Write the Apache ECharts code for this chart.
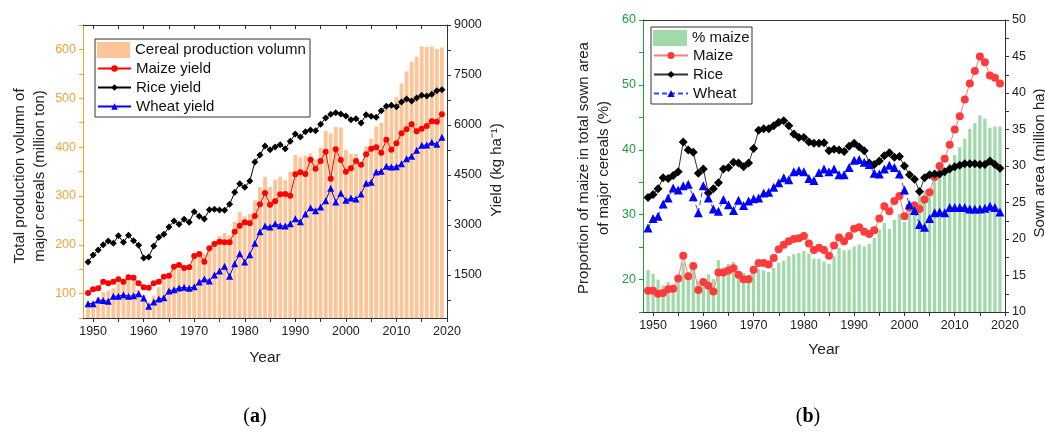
<!DOCTYPE html>
<html><head><meta charset="utf-8">
<script src="https://cdn.jsdelivr.net/npm/echarts@6/dist/echarts.min.js"></script>
<style>html,body{margin:0;padding:0;background:#fff;overflow:hidden}#c{width:1045px;height:435px}</style>
</head><body><div id="c"></div><script>
// ---------- data ----------
const years = [1949,1950,1951,1952,1953,1954,1955,1956,1957,1958,1959,1960,1961,1962,1963,1964,1965,1966,1967,1968,1969,1970,1971,1972,1973,1974,1975,1976,1977,1978,1979,1980,1981,1982,1983,1984,1985,1986,1987,1988,1989,1990,1991,1992,1993,1994,1995,1996,1997,1998,1999,2000,2001,2002,2003,2004,2005,2006,2007,2008,2009,2010,2011,2012,2013,2014,2015,2016,2017,2018,2019];

// (a) cereal production volume (million ton), left axis
const cerealProduction = [75,84,92,103,106,111,121,130,132,127,108,98,84,96,113,127,137,149,150,147,147,172,182,182,196,208,218,224,219,247,267,258,263,291,318,339,318,333,339,332,350,384,379,383,387,375,399,433,428,441,440,394,386,386,368,401,417,442,450,477,484,502,530,555,575,585,606,605,606,601,604];
// (a) yields (kg/ha), right axis
const maizeYield = [961,1073,1100,1300,1250,1300,1370,1300,1430,1420,1250,1130,1120,1250,1300,1450,1480,1750,1800,1710,1730,2070,2130,1900,2300,2430,2500,2480,2480,2800,2980,3080,3050,3270,3620,3960,3610,3710,3920,3930,3880,4520,4580,4530,4960,4690,4920,5200,4390,5270,4950,4600,4700,4920,4810,5120,5290,5330,5170,5560,5260,5450,5750,5870,6020,5810,5890,5970,6110,6100,6320];
const riceYield = [1890,2100,2250,2410,2520,2450,2680,2480,2690,2530,2390,2010,2040,2370,2630,2720,2940,3120,3020,3170,3080,3400,3260,3180,3460,3470,3450,3440,3620,3980,4240,4130,4320,4890,5100,5370,5260,5340,5410,5290,5510,5730,5640,5800,5850,5830,6020,6210,6320,6370,6330,6270,6160,6190,6060,6310,6260,6230,6430,6560,6590,6550,6690,6780,6720,6810,6890,6870,6920,7030,7060];
const wheatYield = [640,640,750,735,710,865,860,910,860,880,940,810,560,690,780,820,1020,1060,1110,1130,1100,1150,1290,1380,1320,1500,1620,1760,1460,1840,2140,1890,2110,2450,2800,2970,2940,3040,2980,2970,3040,3190,3100,3330,3520,3430,3540,3730,4100,3690,3950,3740,3810,3780,3930,4250,4280,4590,4610,4760,4740,4750,4840,4990,5060,5240,5390,5400,5480,5420,5630];

// (b) proportion of maize in total sown area of major cereals (%), left axis
const maizeShare = [21.5,20.9,20.0,19.1,19.6,19.2,20.7,22.6,20.0,22.0,19.8,19.9,20.8,20.1,23.0,21.9,22.4,22.7,21.3,21.0,20.7,21.4,21.6,21.4,21.2,21.8,22.6,22.9,23.6,23.9,24.1,24.4,24.0,23.2,23.2,22.8,22.4,23.6,24.9,24.5,24.6,25.1,25.4,25.1,25.5,26.4,27.7,28.7,27.8,29.2,30.1,28.9,31.2,32.1,33.2,33.7,33.8,35.2,36.3,37.0,37.9,39.2,40.4,41.7,43.2,44.1,45.3,44.8,43.4,43.6,43.6];
// (b) sown area (million ha), right axis
const maizeArea = [12.9,12.9,12.5,12.6,13.1,13.2,14.6,17.7,14.9,16.3,13.0,14.1,13.6,12.8,15.4,15.4,15.7,16.0,15.1,14.5,14.5,15.8,16.7,16.7,16.5,17.4,18.6,19.2,19.7,20.0,20.1,20.4,19.4,18.5,18.8,18.5,17.7,19.1,20.2,19.7,20.4,21.4,21.6,21.0,20.7,21.2,22.8,24.5,23.8,25.2,25.9,23.1,24.3,24.6,24.1,25.4,26.4,28.5,30.0,31.0,32.9,35.0,36.8,39.1,41.3,43.0,45.0,44.2,42.4,42.1,41.3];
const riceArea = [25.7,26.1,26.9,28.4,28.3,28.7,29.2,33.3,32.2,31.9,29.0,29.6,26.3,26.9,27.7,29.6,29.8,30.5,30.4,29.9,30.4,32.4,34.9,35.1,35.1,35.5,36.0,36.2,35.5,34.4,33.9,33.9,33.3,33.1,33.1,33.2,32.1,32.3,32.2,32.0,32.7,33.1,32.6,32.1,30.4,30.2,30.7,31.4,31.8,31.2,31.3,30.0,28.8,28.2,26.5,28.4,28.8,28.9,28.9,29.2,29.6,29.9,30.1,30.3,30.3,30.3,30.2,30.2,30.7,30.2,29.7];
const wheatArea = [21.5,22.8,23.1,24.8,25.6,27.0,26.7,27.3,27.5,25.8,23.6,27.3,25.6,24.1,23.8,25.4,24.7,23.9,25.3,24.6,25.2,25.5,25.6,26.3,26.4,27.1,27.7,28.4,28.1,29.2,29.4,29.2,28.3,28.0,29.1,29.6,29.2,29.6,28.8,28.8,29.8,30.8,30.9,30.5,30.2,29.0,28.9,29.6,30.1,29.8,28.9,26.7,24.7,23.9,22.0,21.6,22.8,23.6,23.7,23.6,24.3,24.3,24.3,24.3,24.1,24.1,24.1,24.2,24.5,24.3,23.7];

// ---------- tick labels ----------
const xLabelValues = [1950,1960,1970,1980,1990,2000,2010,2020];
const xTickValues = [1950,1955,1960,1965,1970,1975,1980,1985,1990,1995,2000,2005,2010,2015,2020];
const yLeftA_labels = [100,200,300,400,500,600];
const yLeftA_ticks = [50,100,150,200,250,300,350,400,450,500,550,600,650];
const yRightA_labels = [1500,3000,4500,6000,7500,9000];
const yRightA_ticks = [750,1500,2250,3000,3750,4500,5250,6000,6750,7500,8250,9000];
const yLeftB_labels = [20,30,40,50,60];
const yLeftB_ticks = [15,20,25,30,35,40,45,50,55,60];
const yRightB_labels = [10,15,20,25,30,35,40,45,50];
const yRightB_ticks = [10,12.5,15,17.5,20,22.5,25,27.5,30,32.5,35,37.5,40,42.5,45,47.5,50];

// ---------- chart ----------
const F = "'Liberation Sans', Arial, sans-serif";
const ORANGE = '#f7a13a';
const GREEN = '#1ca23c';
const DARK = '#222';
const pairs = arr => years.map((y, i) => [y, arr[i]]);
const plain = v => String(v);

function xAxisDef(grid, pos, opts) {
  return Object.assign({
    type: 'value', gridIndex: grid, position: pos, min: 1948, max: 2020,
    axisLine: {show: true, onZero: false, lineStyle: {color: '#333', width: 1}},
    axisTick: {show: true, inside: false, length: 4, customValues: xTickValues, lineStyle: {color: '#333'}},
    axisLabel: {show: true, customValues: xLabelValues, formatter: plain, margin: 7, fontSize: 12.5, fontFamily: F, color: DARK},
    splitLine: {show: false}
  }, opts || {});
}
function yAxisDef(grid, pos, min, max, ticks, labels, color, labelColor) {
  return {
    type: 'value', gridIndex: grid, position: pos, min: min, max: max,
    axisLine: {show: true, onZero: false, lineStyle: {color: color, width: 1}},
    axisTick: {show: true, inside: false, length: 4, customValues: ticks, lineStyle: {color: color}},
    axisLabel: {show: true, customValues: labels, formatter: plain, margin: 7, fontSize: 12.5, fontFamily: F, color: labelColor},
    splitLine: {show: false}
  };
}

const option = {
  animation: false,
  backgroundColor: '#fff',
  grid: [
    {left: 83, top: 25, width: 364, height: 293},
    {left: 643, top: 20, width: 362, height: 292}
  ],
  xAxis: [
    xAxisDef(0, 'bottom'),
    xAxisDef(0, 'top', {axisLabel: {show: false}, axisTick: {show: true, inside: true, length: 4, customValues: xTickValues, lineStyle: {color: '#333'}}}),
    xAxisDef(1, 'bottom'),
    xAxisDef(1, 'top', {axisLabel: {show: false}, axisTick: {show: false}})
  ],
  yAxis: [
    yAxisDef(0, 'left', 50, 650, yLeftA_ticks, yLeftA_labels, ORANGE, ORANGE),
    yAxisDef(0, 'right', 210, 9000, yRightA_ticks, yRightA_labels, '#333', DARK),
    yAxisDef(1, 'left', 15, 60, yLeftB_ticks, yLeftB_labels, GREEN, GREEN),
    yAxisDef(1, 'right', 10, 50, yRightB_ticks, yRightB_labels, '#333', DARK)
  ],
  legend: [
    {data: [{name: 'Cereal production volumn', icon: 'rect'}], orient: 'vertical', left: 97, top: 42,
     itemWidth: 33, itemHeight: 16, padding: 0, selectedMode: false,
     textStyle: {fontSize: 15, fontFamily: F, color: '#111'}},
    {data: ['Maize yield', 'Rice yield', 'Wheat yield'], orient: 'vertical', left: 97, top: 61,
     itemWidth: 33, itemHeight: 8, itemGap: 4, padding: 0, selectedMode: false,
     textStyle: {fontSize: 15, fontFamily: F, color: '#111', lineHeight: 15}},
    {data: [{name: '% maize', icon: 'rect'}], orient: 'vertical', left: 653, top: 30,
     itemWidth: 34, itemHeight: 16, padding: 0, selectedMode: false,
     textStyle: {fontSize: 15, fontFamily: F, color: '#111'}},
    {data: ['Maize', 'Rice', 'Wheat'], orient: 'vertical', left: 653, top: 48,
     itemWidth: 34, itemHeight: 9, itemGap: 4, padding: 0, selectedMode: false,
     textStyle: {fontSize: 15, fontFamily: F, color: '#111', lineHeight: 15}}
  ],
  graphic: [
    {type: 'rect', z: 3, shape: {x: 95, y: 39, width: 215, height: 78}, style: {fill: '#fff', stroke: '#333', lineWidth: 1}},
    {type: 'rect', z: 3, shape: {x: 651, y: 27, width: 101, height: 77}, style: {fill: '#fff', stroke: '#333', lineWidth: 1}},
    {type: 'text', x: 20, y: 176, rotation: Math.PI / 2, style: {text: 'Total production volumn of', fontSize: 15, fontFamily: F, fill: DARK, align: 'center', verticalAlign: 'middle'}},
    {type: 'text', x: 39.5, y: 176, rotation: Math.PI / 2, style: {text: 'major cereals (million ton)', fontSize: 15, fontFamily: F, fill: DARK, align: 'center', verticalAlign: 'middle'}},
    {type: 'text', x: 497, y: 170, rotation: Math.PI / 2, style: {text: 'Yield (kg ha\u207B\u00B9)', fontSize: 15, fontFamily: F, fill: DARK, align: 'center', verticalAlign: 'middle'}},
    {type: 'text', x: 265, y: 358, style: {text: 'Year', fontSize: 15.5, fontFamily: F, fill: DARK, align: 'center', verticalAlign: 'middle'}},
    {type: 'text', x: 584, y: 168, rotation: Math.PI / 2, style: {text: 'Proportion of maize in total sown area', fontSize: 15, fontFamily: F, fill: DARK, align: 'center', verticalAlign: 'middle'}},
    {type: 'text', x: 604, y: 168, rotation: Math.PI / 2, style: {text: 'of major cereals (%)', fontSize: 15, fontFamily: F, fill: DARK, align: 'center', verticalAlign: 'middle'}},
    {type: 'text', x: 1040, y: 163, rotation: Math.PI / 2, style: {text: 'Sown area (million ha)', fontSize: 15, fontFamily: F, fill: DARK, align: 'center', verticalAlign: 'middle'}},
    {type: 'text', x: 824, y: 350, style: {text: 'Year', fontSize: 15.5, fontFamily: F, fill: DARK, align: 'center', verticalAlign: 'middle'}},
    {type: 'text', x: 255, y: 417, style: {text: '{p|(}{b|a}{p|)}', align: 'center', verticalAlign: 'middle',
      rich: {p: {fontSize: 20, fontFamily: "'Liberation Serif', serif", fill: '#000'}, b: {fontSize: 20, fontWeight: 'bold', fontFamily: "'Liberation Serif', serif", fill: '#000'}}}},
    {type: 'text', x: 808, y: 417, style: {text: '{p|(}{b|b}{p|)}', align: 'center', verticalAlign: 'middle',
      rich: {p: {fontSize: 20, fontFamily: "'Liberation Serif', serif", fill: '#000'}, b: {fontSize: 20, fontWeight: 'bold', fontFamily: "'Liberation Serif', serif", fill: '#000'}}}}
  ],
  series: [
    {name: 'Cereal production volumn', type: 'bar', xAxisIndex: 0, yAxisIndex: 0, data: pairs(cerealProduction),
     barWidth: 3.8, itemStyle: {color: '#fdc497'}, z: 1},
    {name: 'Maize yield', type: 'line', xAxisIndex: 0, yAxisIndex: 1, data: pairs(maizeYield),
     symbol: 'circle', symbolSize: 6, itemStyle: {color: '#ff0000'}, lineStyle: {color: '#ff0000', width: 1}, z: 5},
    {name: 'Rice yield', type: 'line', xAxisIndex: 0, yAxisIndex: 1, data: pairs(riceYield),
     symbol: 'diamond', symbolSize: 7, itemStyle: {color: '#000'}, lineStyle: {color: '#000', width: 1}, z: 5},
    {name: 'Wheat yield', type: 'line', xAxisIndex: 0, yAxisIndex: 1, data: pairs(wheatYield),
     symbol: 'triangle', symbolSize: 7, itemStyle: {color: '#0000ff'}, lineStyle: {color: '#0000ff', width: 1}, z: 5},

    {name: '% maize', type: 'bar', xAxisIndex: 2, yAxisIndex: 2, data: pairs(maizeShare),
     barWidth: 3.3, itemStyle: {color: '#a2d9aa'}, z: 1},
    {name: 'Maize', type: 'line', xAxisIndex: 2, yAxisIndex: 3, data: pairs(maizeArea),
     symbol: 'circle', symbolSize: 8, itemStyle: {color: '#ff3b3b'}, lineStyle: {color: '#ff7a7a', width: 1}, z: 5},
    {name: 'Rice', type: 'line', xAxisIndex: 2, yAxisIndex: 3, data: pairs(riceArea),
     symbol: 'diamond', symbolSize: 9, itemStyle: {color: '#000'}, lineStyle: {color: '#333', width: 1}, z: 5},
    {name: 'Wheat', type: 'line', xAxisIndex: 2, yAxisIndex: 3, data: pairs(wheatArea),
     symbol: 'triangle', symbolSize: 9, itemStyle: {color: '#0000ff'}, lineStyle: {color: '#3344ff', width: 1, type: [5, 3]}, z: 5}
  ]
};
const chart = echarts.init(document.getElementById('c'), null, {renderer: 'canvas', width: 1045, height: 435});
chart.setOption(option);
</script></body></html>
